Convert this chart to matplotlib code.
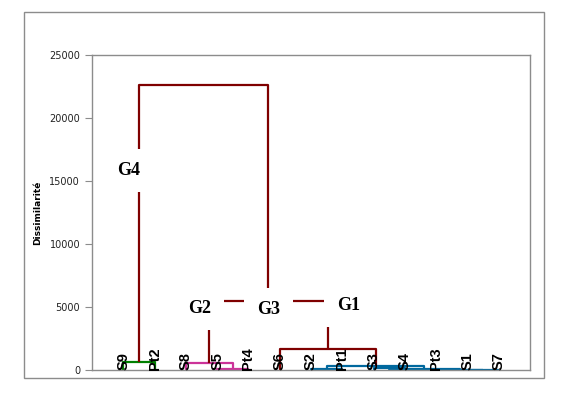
import matplotlib
matplotlib.use("Agg")
import matplotlib.pyplot as plt
from matplotlib.patches import Rectangle

# leaves in dendrogram order
leaves = ["S9", "Pt2", "S8", "S5", "Pt4", "S6", "S2", "Pt1", "S3", "S4", "Pt3", "S1", "S7"]

# merges: (child a, child b, dissimilarity) ; ids continue after the leaves
merge_a = [0, 3, 2, 6, 8, 11, 10, 17, 16, 5, 15, 13]
merge_b = [1, 4, 14, 7, 9, 12, 18, 19, 20, 21, 22, 23]
merge_h = [650, 80, 550, 40, 120, 20, 30, 60, 320, 1650, 5500, 22600]
merge_c = ["green", "pink", "pink", "blue", "blue", "blue", "blue", "blue", "blue",
           "red", "red", "red"]

groups = ["G4", "G2", "G3", "G1"]
group_x = [0.16, 2.45, 4.65, 7.2]
group_y = [15800, 4900, 4800, 5100]

colors = {"green": "#008000", "pink": "#cc3399", "blue": "#00689e", "red": "#7f0000"}

fig = plt.figure(figsize=(5.65, 3.97), dpi=100)
ax = fig.add_axes([92 / 565, 1 - 370 / 397, (530 - 92) / 565, (370 - 55) / 397])

# outer chart frame
fig.add_artist(Rectangle((24 / 565, 1 - 378 / 397), (544 - 24) / 565, (378 - 12) / 397,
                         transform=fig.transFigure, fill=False, edgecolor="#8c8c8c", lw=1))

xs = list(range(len(leaves)))
hs = [0] * len(leaves)
for a, b, h, c in zip(merge_a, merge_b, merge_h, merge_c):
    col = colors[c]
    ax.plot([xs[a], xs[a], xs[b], xs[b]], [hs[a], h, h, hs[b]], color=col, lw=1.6,
            solid_capstyle="butt", zorder=2)
    xs.append((xs[a] + xs[b]) / 2)
    hs.append(h)

for i, lab in enumerate(leaves):
    ax.text(i, 0, lab, rotation=90, ha="center", va="bottom", fontsize=10.5,
            fontweight="bold", family="Liberation Sans", zorder=4)

for g, gx, gy in zip(groups, group_x, group_y):
    ax.text(gx, gy, g, ha="center", va="center", fontsize=13, fontweight="bold",
            family="Liberation Serif", zorder=3,
            bbox=dict(boxstyle="square,pad=0.72", facecolor="white", edgecolor="none"))

ax.set_xlim(-1, 13)
ax.set_ylim(0, 25000)
ax.set_yticks([0, 5000, 10000, 15000, 20000, 25000])
ax.set_xticks([])
ax.tick_params(axis="y", direction="out", length=5, color="#8c8c8c", labelsize=7,
               pad=3.5, labelcolor="#222222")
for s in ax.spines.values():
    s.set_color("#8c8c8c")
    s.set_linewidth(1)
ax.set_ylabel("Dissimilarité", fontsize=6.5, fontweight="bold", labelpad=5)

fig.savefig("out.png", dpi=100)
